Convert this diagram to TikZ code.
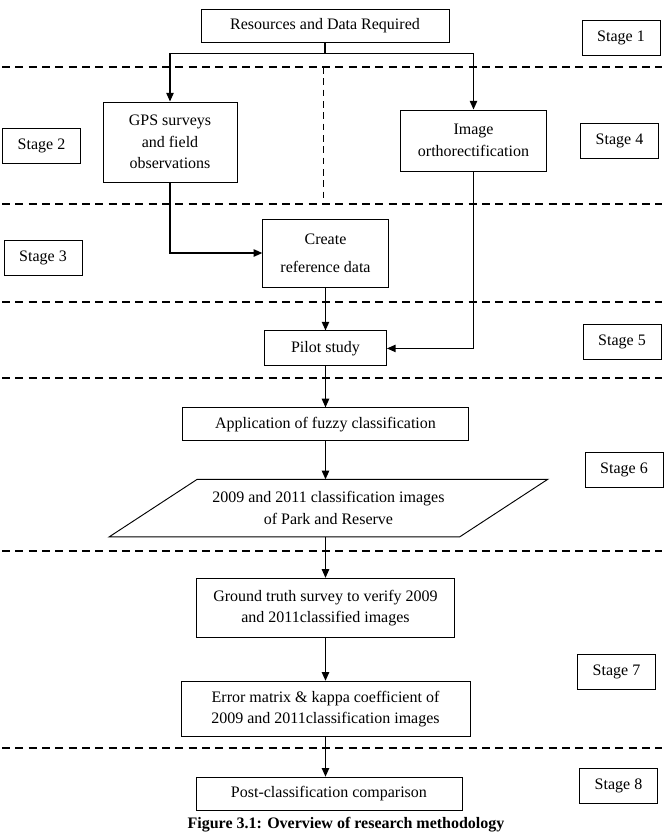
\documentclass[tikz,border=0pt]{standalone}
\usepackage{fontspec}
\setmainfont{Liberation Serif}
\usetikzlibrary{arrows.meta,positioning}
\tikzset{
  block/.style={
    draw=black, line width=0.7pt, fill=white, align=center,
    inner sep=2pt, font=\fontsize{12}{16}\selectfont
  },
  stagetag/.style={block, minimum width=58.5pt, minimum height=26.25pt},
  datablock/.style={align=center, inner sep=2pt, font=\fontsize{12}{16}\selectfont},
  flow/.style={-{Triangle[length=6.5pt,width=5.5pt]}, draw=black, line width=1pt},
  link/.style={draw=black, line width=1pt},
  divider/.style={draw=black, line width=1pt, dash pattern=on 6pt off 4pt},
  splitline/.style={draw=black, line width=0.6pt, dash pattern=on 5pt off 3.5pt},
  captiontext/.style={font=\fontsize{12}{14}\selectfont\bfseries}
}

\begin{document}
\begin{tikzpicture}[x=0.75pt, y=-0.75pt]
  \useasboundingbox (0,0) rectangle (666,836);

  % stage separators
  \draw[divider] (2,67) -- (662,67);
  \draw[divider] (2,204) -- (662,204);
  \draw[divider] (2,302) -- (662,302);
  \draw[divider] (2,378) -- (662,378);
  \draw[divider] (2,551) -- (662,551);
  \draw[divider] (2,748) -- (662,748);
  \draw[splitline] (323,67) -- (323,204);

  \node[block, minimum width=186pt, minimum height=24.75pt] (sources) at (325,25.5) {Resources and Data Required};
  \node[block, minimum width=100.5pt, minimum height=60pt] (gps) at (170,142) {GPS surveys\\and field\\observations};
  \node[block, minimum width=109pt, minimum height=45.75pt] (ortho) at (473.5,140.5) {Image\\orthorectification};
  \node[block, minimum width=94pt, minimum height=51pt] (refdata) at (325.5,253) {Create\\[5pt]reference data};

  \node[block, minimum width=91.5pt, minimum height=26.25pt, below=32.25pt of refdata] (pilot) {Pilot study};
  \node[block, minimum width=214.5pt, minimum height=24.75pt, below=30.75pt of pilot] (fuzzy) {Application of fuzzy classification};
  \node[datablock, minimum width=262.5pt, minimum height=42.75pt, below=28.5pt of fuzzy, xshift=2.2pt] (classimg) {2009 and 2011 classification images\\of Park and Reserve};
  \draw[line width=0.7pt] ([xshift=33pt]classimg.north west) -- ([xshift=33pt]classimg.north east)
    -- ([xshift=-33pt]classimg.south east) -- ([xshift=-33pt]classimg.south west) -- cycle;
  \node[block, minimum width=194pt, minimum height=44.25pt, below=30.75pt of classimg, xshift=-2.2pt] (truth) {Ground truth survey to verify 2009\\and 2011classified images};
  \node[block, minimum width=216.75pt, minimum height=41.25pt, below=32.25pt of truth] (kappa) {Error matrix \& kappa coefficient of\\2009 and 2011classification images};
  \node[block, minimum width=199.5pt, minimum height=24.75pt, below=30pt of kappa, xshift=2.6pt] (compare) {Post-classification comparison};

  % stage labels
  \node[stagetag] (stage1) at (621,37.5) {Stage 1};
  \node[stagetag] (stage2) at (41.5,146) {Stage 2};
  \node[stagetag] (stage3) at (43,257.5) {Stage 3};
  \node[stagetag] (stage4) at (619.5,140.5) {Stage 4};
  \node[stagetag] (stage5) at (622,342) {Stage 5};
  \node[stagetag] (stage6) at (624,469.5) {Stage 6};
  \node[stagetag] (stage7) at (616.5,671.5) {Stage 7};
  \node[stagetag] (stage8) at (618.5,786) {Stage 8};

  % connectors
  \coordinate (split) at (325,53.5);
  \draw[link] (sources.south) -- (split);
  \draw[flow] (split) -| (gps.north);
  \draw[flow] (split) -| (ortho.north);
  \draw[flow] (gps.south) |- (refdata.west);
  \draw[flow] (refdata.south) -- (pilot.north);
  \draw[flow] (ortho.south) |- (pilot.east);
  \draw[flow] (pilot.south) -- (fuzzy.north);
  \draw[flow] (fuzzy.south) -- (fuzzy.south |- classimg.north);
  \draw[flow] (fuzzy.south |- classimg.south) -- (truth.north);
  \draw[flow] (truth.south) -- (kappa.north);
  \draw[flow] (kappa.south) -- (kappa.south |- compare.north);

  \node[captiontext] (caption) at (346,825) {Figure 3.1: Overview of research methodology};
\end{tikzpicture}
\end{document}
